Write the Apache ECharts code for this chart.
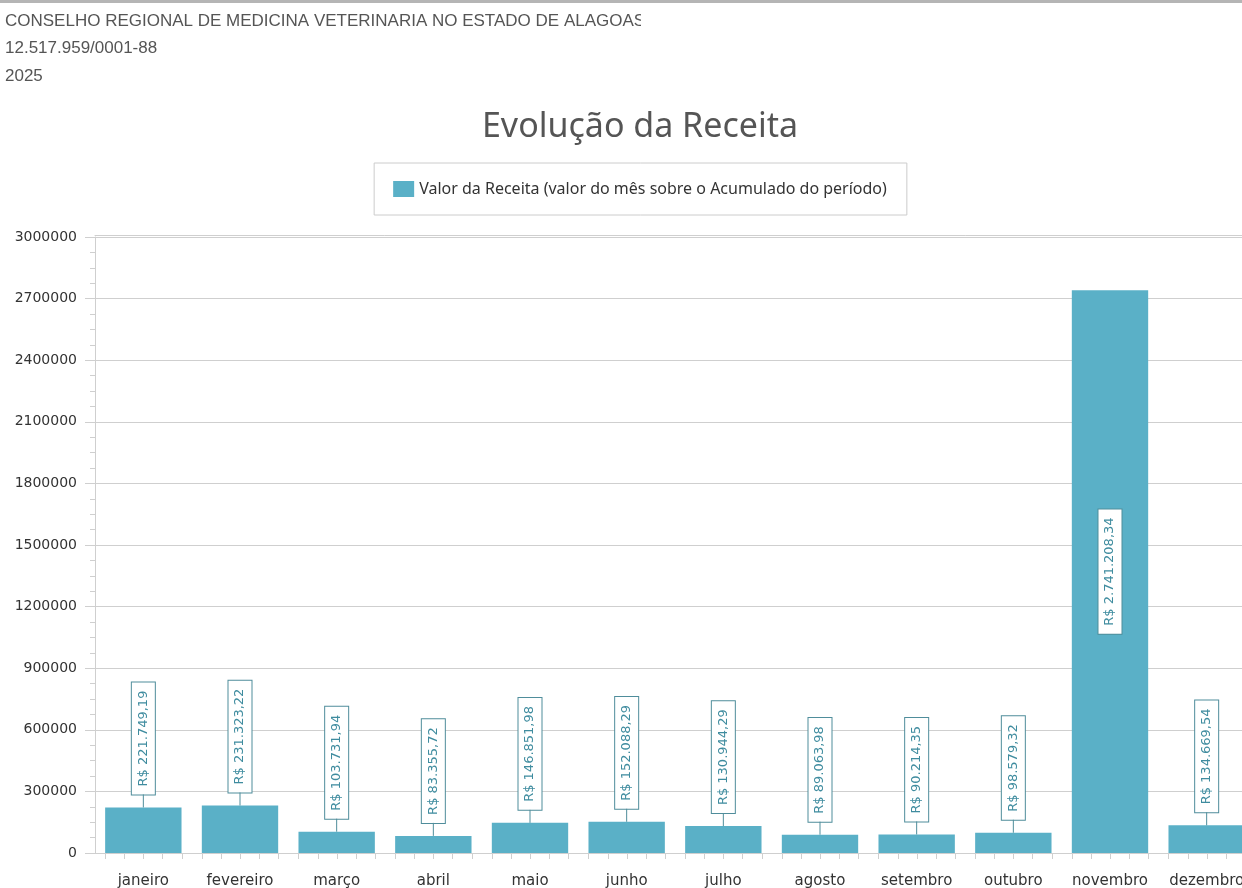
<!DOCTYPE html>
<html>
<head>
<meta charset="utf-8">
<script src="https://cdn.jsdelivr.net/npm/echarts@6/dist/echarts.min.js"></script>
<style>
html,body{margin:0;padding:0;background:#fff;overflow:hidden;width:1242px;height:888px;}
#chart{width:1280px;height:888px;}
</style>
</head>
<body>
<div id="chart"></div>
<script>
const headerLines = ['CONSELHO REGIONAL DE MEDICINA VETERINARIA NO ESTADO DE ALAGOAS', '12.517.959/0001-88', '2025'];
const chartTitle = 'Evolução da Receita';
const seriesName = 'Valor da Receita (valor do mês sobre o Acumulado do período)';
const months = ['janeiro','fevereiro','março','abril','maio','junho','julho','agosto','setembro','outubro','novembro','dezembro'];
const values = [221749.19, 231323.22, 103731.94, 83355.72, 146851.98, 152088.29, 130944.29, 89063.98, 90214.35, 98579.32, 2741208.34, 134669.54];
const insideLabel = [false,false,false,false,false,false,false,false,false,false,true,false];
const yMin = 0, yMax = 3000000, yInterval = 300000;

function brl(v){
  const parts = v.toFixed(2).split('.');
  const int = parts[0].replace(/\B(?=(\d{3})+(?!\d))/g, '.');
  return 'R$ ' + int + ',' + parts[1];
}

const BAR = '#5ab0c7';
const LBL = '#3f8c9f';
const BOX = '#4f8d9b';
const GRIDC = '#cfcfcf';

const labelBase = {
  show: true, rotate: 90, color: LBL, fontFamily: 'DejaVu Sans', fontSize: 13, lineHeight: 15,
  backgroundColor: '#fff', borderColor: BOX, borderWidth: 1, padding: [4, 8],
  formatter: p => brl(p.value)
};

const barData = values.map((v, i) => {
  if (insideLabel[i]) {
    return {value: v, label: Object.assign({}, labelBase, {position: 'inside', align: 'center', verticalAlign: 'middle'})};
  }
  return {value: v, label: Object.assign({}, labelBase, {position: 'top', distance: 13, align: 'left', verticalAlign: 'middle'})};
});

const deco = values.map((v, i) => [i, v, insideLabel[i] ? 1 : 0]);

const chart = echarts.init(document.getElementById('chart'), null, {renderer: 'canvas'});
chart.setOption({
  backgroundColor: '#fff',
  animation: false,
  title: {
    text: chartTitle, left: 'center', top: 105,
    textStyle: {fontFamily: 'Noto Sans', fontSize: 34, fontWeight: 'normal', color: '#555'}
  },
  legend: {
    data: [seriesName], left: 'center', top: 163,
    itemWidth: 21, itemHeight: 16, itemGap: 10,
    padding: [18, 20, 18, 19], borderColor: '#cccccc', borderWidth: 1,
    icon: 'rect',
    textStyle: {fontFamily: 'Noto Sans', fontSize: 16, color: '#333'}
  },
  graphic: [
    {type: 'rect', left: 0, top: 0, shape: {width: 1280, height: 3}, style: {fill: '#b5b5b5'}},
    {type: 'text', left: 5, top: 13, style: {text: headerLines[0], fill: '#555', font: '17px "Liberation Sans"'}},
    {type: 'rect', left: 641, top: 8, z: 10, shape: {width: 40, height: 26}, style: {fill: '#fff'}},
    {type: 'text', left: 5, top: 40, style: {text: headerLines[1], fill: '#555', font: '17px "Liberation Sans"'}},
    {type: 'text', left: 5, top: 68, style: {text: headerLines[2], fill: '#555', font: '17px "Liberation Sans"'}}
  ],
  grid: {left: 95, right: 25, top: 237, bottom: 35, containLabel: false, outerBoundsMode: 'none'},
  xAxis: [{
    type: 'category', data: months,
    axisLine: {show: true, lineStyle: {color: GRIDC}},
    axisTick: {show: false},
    axisLabel: {color: '#333', fontFamily: 'DejaVu Sans', fontSize: 15, margin: 21, interval: 0, hideOverlap: false}
  }, {
    type: 'category', data: months, position: 'top', offset: 2,
    axisLine: {show: true, lineStyle: {color: GRIDC}},
    axisTick: {show: false}, axisLabel: {show: false}
  }],
  yAxis: {
    type: 'value', min: yMin, max: yMax, interval: yInterval,
    axisLine: {show: true, lineStyle: {color: GRIDC}},
    axisTick: {show: true, length: 10, lineStyle: {color: GRIDC}},
    minorTick: {show: true, splitNumber: 4, length: 5, lineStyle: {color: GRIDC}},
    splitLine: {show: true, lineStyle: {color: GRIDC, width: 1}},
    axisLabel: {color: '#333', fontFamily: 'DejaVu Sans', fontSize: 14, margin: 18, formatter: v => String(v)}
  },
  series: [{
    name: seriesName, type: 'bar', data: barData, barCategoryGap: '21%',
    itemStyle: {color: BAR}, z: 2
  }, {
    name: 'deco', type: 'custom', data: deco, clip: false, z: 3, silent: true,
    encode: {x: 0, y: 1},
    renderItem: function(params, api){
      const i = api.value(0), v = api.value(1), inside = api.value(2);
      const top = api.coord([i, v]);
      const base = api.coord([i, 0]);
      const bw = api.size([1, 0])[0] * 0.79;
      const children = [];
      if (!inside) {
        children.push({type: 'line', shape: {x1: top[0], y1: top[1], x2: top[0], y2: top[1] - 13}, style: {stroke: BOX, lineWidth: 1}});
      }
      [-0.5, -0.25, 0, 0.25, 0.5].forEach(f => {
        const x = Math.round(base[0] + f * bw) + 0.5;
        children.push({type: 'line', shape: {x1: x, y1: base[1], x2: x, y2: base[1] + 6}, style: {stroke: GRIDC, lineWidth: 1}});
      });
      return {type: 'group', children: children};
    }
  }]
});
</script>
</body>
</html>
